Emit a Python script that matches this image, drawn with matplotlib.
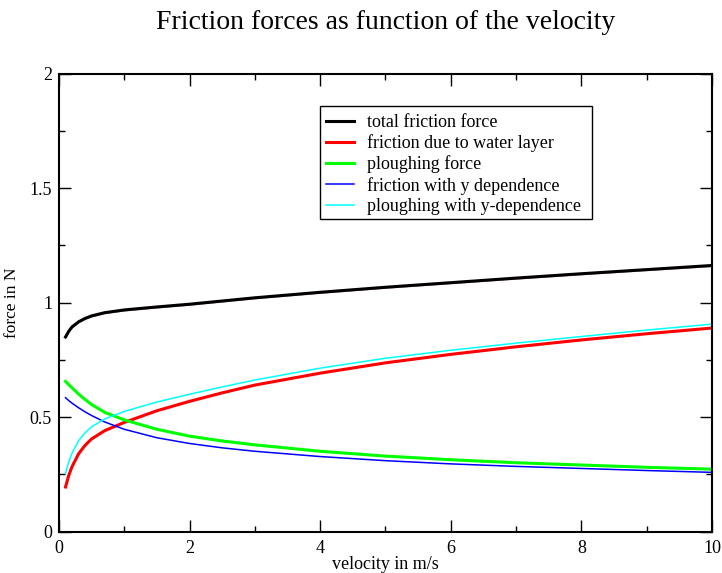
import matplotlib
matplotlib.use("Agg")
import matplotlib.pyplot as plt
from matplotlib.ticker import MultipleLocator
from matplotlib.patches import Rectangle

plt.rcParams['font.family'] = ['Liberation Serif', 'DejaVu Serif']

velocity = [0.1, 0.15, 0.2, 0.3, 0.4, 0.5, 0.7, 1.0, 1.5, 2.0, 2.5, 3, 4, 5, 6, 7, 8, 9, 10]

total_friction = [0.850, 0.875, 0.894, 0.916, 0.931, 0.942, 0.956, 0.968, 0.981, 0.993, 1.007, 1.021, 1.045, 1.067, 1.087, 1.107, 1.126, 1.144, 1.162]
total_ydep     = [0.846, 0.871, 0.890, 0.912, 0.927, 0.938, 0.952, 0.964, 0.977, 0.989, 1.003, 1.017, 1.041, 1.063, 1.083, 1.103, 1.122, 1.140, 1.158]
friction_water = [0.195, 0.246, 0.284, 0.340, 0.377, 0.405, 0.441, 0.477, 0.528, 0.569, 0.606, 0.640, 0.692, 0.737, 0.774, 0.807, 0.837, 0.864, 0.889]
ploughing      = [0.656, 0.642, 0.628, 0.601, 0.577, 0.555, 0.521, 0.488, 0.447, 0.417, 0.396, 0.379, 0.351, 0.330, 0.314, 0.301, 0.291, 0.281, 0.273]
friction_ydep  = [0.585, 0.572, 0.561, 0.541, 0.523, 0.507, 0.479, 0.447, 0.410, 0.385, 0.366, 0.351, 0.328, 0.310, 0.296, 0.285, 0.276, 0.267, 0.259]
ploughing_ydep = [0.254, 0.305, 0.343, 0.397, 0.432, 0.458, 0.492, 0.525, 0.566, 0.600, 0.632, 0.662, 0.714, 0.757, 0.792, 0.823, 0.852, 0.880, 0.906]

labels = ["total friction force", "friction due to water layer", "ploughing force",
          "friction with y dependence", "ploughing with y-dependence"]

fig = plt.figure(figsize=(7.22, 5.73), dpi=100)
ax = fig.add_axes([0.0817, 0.0721, 0.9044, 0.7996])

ax.plot(velocity, total_ydep, color='#b08080', lw=1.0)
ax.plot(velocity, total_friction, color='black', lw=2.2, label=labels[0])
ax.plot(velocity, friction_water, color='#ff0000', lw=2.2, label=labels[1])
ax.plot(velocity, ploughing, color='#00ff00', lw=2.2, label=labels[2])
ax.plot(velocity, friction_ydep, color='#0000ff', lw=1.1, label=labels[3])
ax.plot(velocity, ploughing_ydep, color='#00ffff', lw=1.1, label=labels[4])

ax.set_xlim(0, 10)
ax.set_ylim(0, 2)
ax.xaxis.set_major_locator(MultipleLocator(2))
ax.xaxis.set_minor_locator(MultipleLocator(1))
ax.yaxis.set_major_locator(MultipleLocator(0.5))
ax.yaxis.set_minor_locator(MultipleLocator(0.25))
ax.set_yticks([0, 0.5, 1, 1.5, 2])
ax.set_yticklabels(["0", "0.5", "1", "1.5", "2"])
ax.tick_params(which='both', direction='in', top=True, right=True, labelsize=13, width=1.0)
ax.tick_params(which='major', length=8.5)
ax.tick_params(which='minor', length=4.3)
ax.tick_params(axis='x', which='major', pad=6)
ax.tick_params(axis='y', which='major', pad=5)
for s in ax.spines.values():
    s.set_linewidth(1.5)

ax.set_xlabel("velocity in m/s", fontsize=13, labelpad=-1)
ax.set_ylabel("force in N", fontsize=12.5, labelpad=7)
ax.set_title("Friction forces as function of the velocity", fontsize=20, pad=32)

leg = ax.legend(loc='upper left', bbox_to_anchor=(0.4, 0.925), fontsize=13,
                frameon=False, handlelength=1.5,
                handletextpad=0.75, labelspacing=0.18, borderpad=0.35, borderaxespad=0)
ax.add_patch(Rectangle((0.3997, 0.683), 0.4165, 0.246, transform=ax.transAxes,
                       fill=False, edgecolor='black', lw=1.0, zorder=5))

fig.savefig("out.png", dpi=100)
